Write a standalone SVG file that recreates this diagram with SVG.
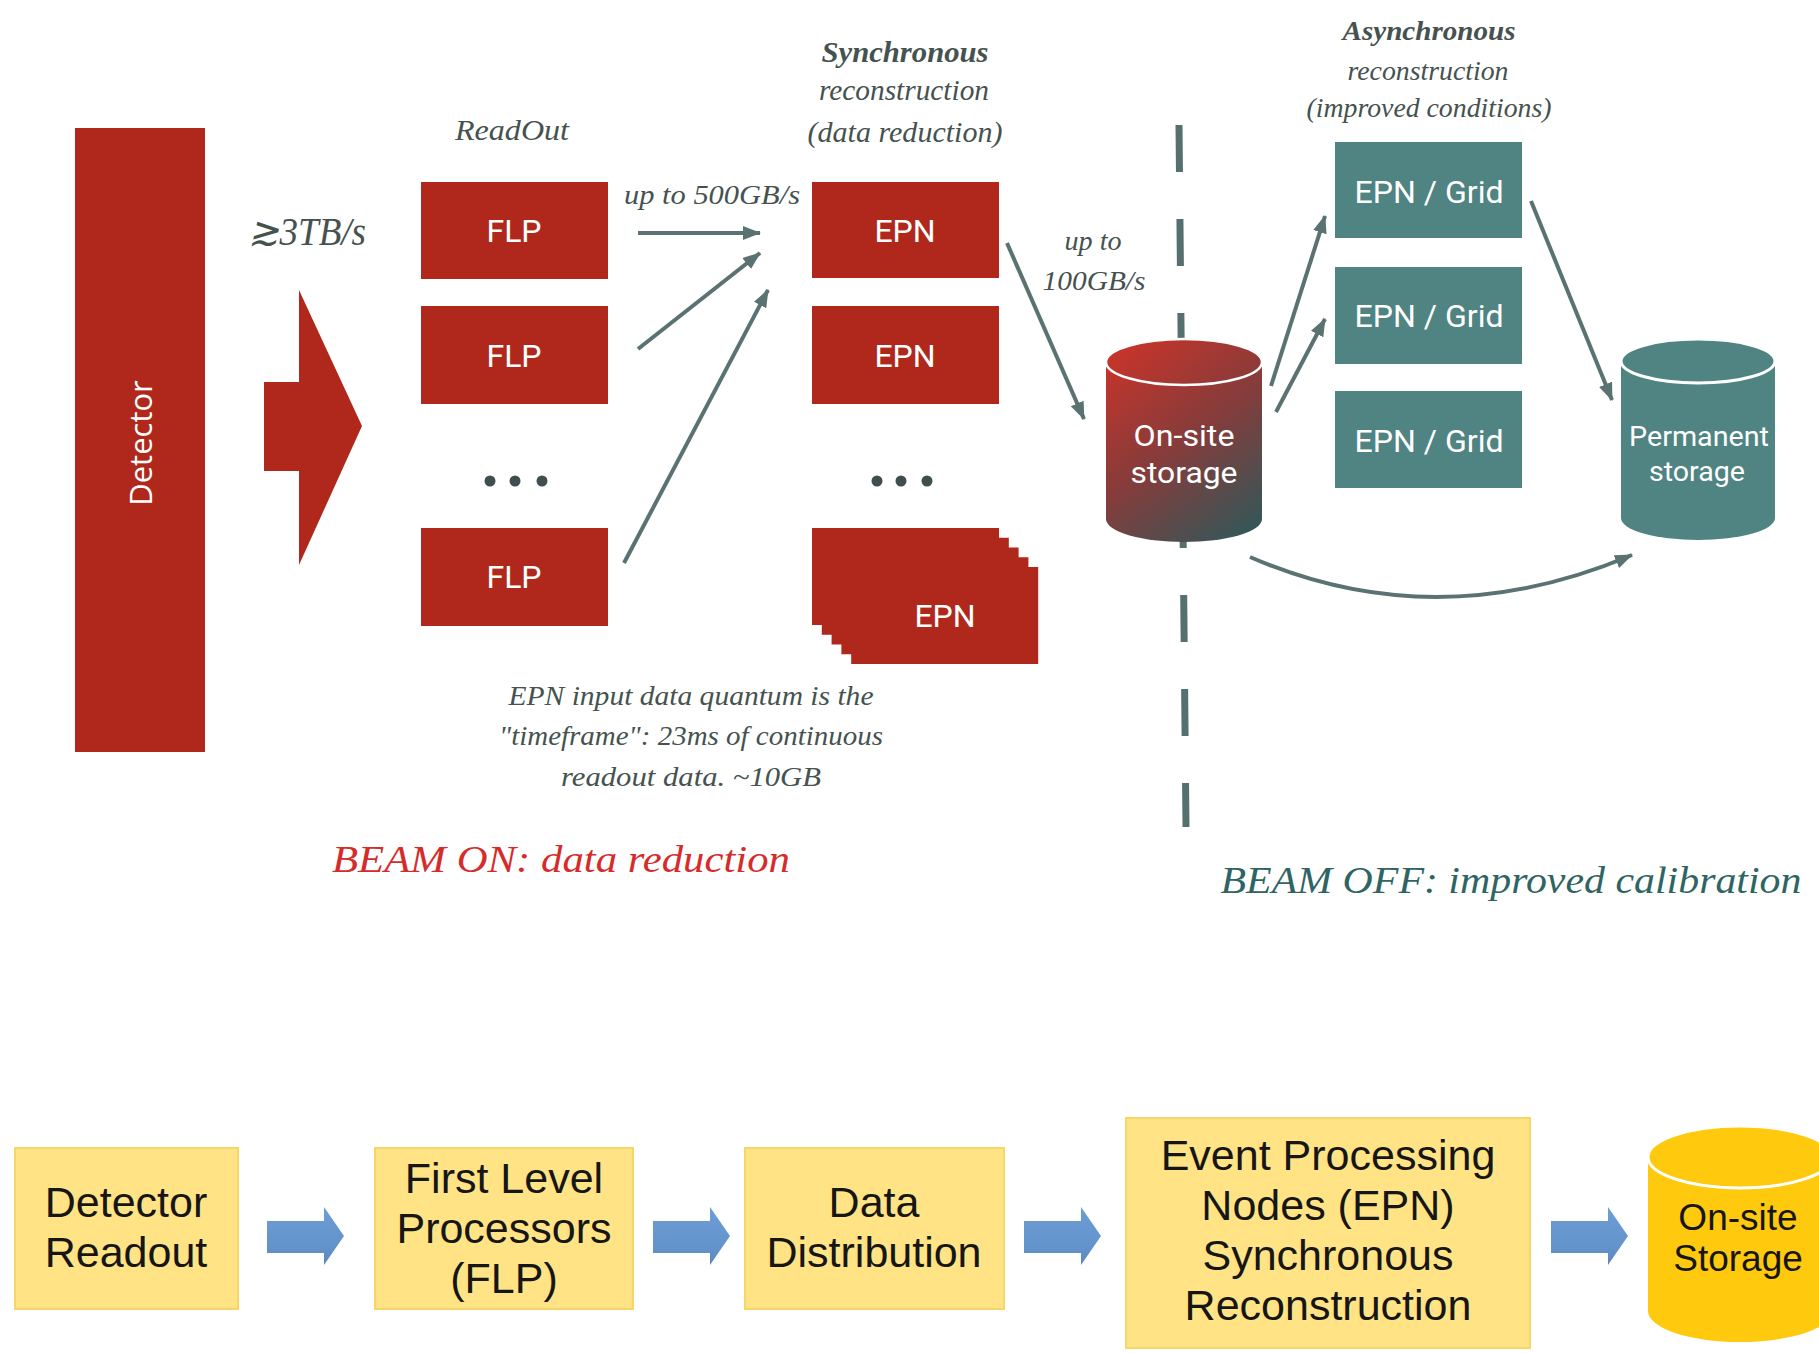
<svg xmlns="http://www.w3.org/2000/svg" xmlns:xlink="http://www.w3.org/1999/xlink" width="1819" height="1354" viewBox="0 0 1819 1354">
  <style>
    .red { fill: #b0281b; }
    .teal { fill: #4f8482; }
    .lbl { font-family: Roboto, "Liberation Sans", sans-serif; fill: #ffffff; text-anchor: middle; }
    .note { font-family: "Liberation Serif", "DejaVu Serif", serif; font-style: italic; fill: #45524f; text-anchor: middle; }
    .conn { fill: none; stroke: #5a7372; stroke-width: 4; marker-end: url(#ah); }
    .ybox { fill: #ffe384; stroke: #f7d566; stroke-width: 2; }
    .ytxt { font-family: "Liberation Sans", Arial, sans-serif; fill: #161616; text-anchor: middle; }
  </style>
  <defs>
    <marker id="ah" markerUnits="userSpaceOnUse" markerWidth="18" markerHeight="14" refX="17" refY="7" orient="auto">
      <path d="M0,0 L18,7 L0,14 Z" fill="#5a7372"/>
    </marker>
    <linearGradient id="onsiteGrad" gradientUnits="userSpaceOnUse" x1="1106" y1="340" x2="1262" y2="542">
      <stop offset="0" stop-color="#cf3328"/>
      <stop offset="0.5" stop-color="#853c3b"/>
      <stop offset="1" stop-color="#2b5a5c"/>
    </linearGradient>
    <linearGradient id="blueGrad" x1="0" y1="0" x2="0" y2="1">
      <stop offset="0" stop-color="#6c9dd3"/>
      <stop offset="0.7" stop-color="#6393cb"/>
      <stop offset="1" stop-color="#5a86bd"/>
    </linearGradient>
    <path id="blk" d="M0,-16 H57 V-30 L77,-1 L57,28 V16 H0 Z" fill="url(#blueGrad)"/>
  </defs>

  <rect width="1819" height="1354" fill="#ffffff"/>

  <!-- dashed separator between beam-on and beam-off parts -->
  <line x1="1179" y1="125" x2="1186" y2="827" stroke="#56706f" stroke-width="7" stroke-dasharray="47 47"/>

  <!-- upper flow: detector to storage -->
  <g id="detector">
    <rect class="red" x="75" y="128" width="130" height="624"/>
    <text transform="translate(152,443) rotate(-90)" font-family="'Open Sans', 'Liberation Sans', sans-serif" font-size="31" fill="#ffffff" text-anchor="middle">Detector</text>
  </g>

  <g id="rate-arrow">
    <polygon class="red" points="264,382 299,382 299,290 362,426 299,565 299,471 264,471"/>
    <text class="note" x="307" y="245" font-size="40" textLength="118" lengthAdjust="spacingAndGlyphs">≳3TB/s</text>
  </g>

  <g id="readout-title">
    <text class="note" x="512" y="140" font-size="30" textLength="114" lengthAdjust="spacingAndGlyphs">ReadOut</text>
  </g>

  <g id="flp-1">
    <rect class="red" x="421" y="182" width="187" height="97"/>
    <text class="lbl" x="514" y="242" font-size="32">FLP</text>
  </g>
  <g id="flp-2">
    <rect class="red" x="421" y="306" width="187" height="98"/>
    <text class="lbl" x="514" y="367" font-size="32">FLP</text>
  </g>
  <g id="flp-dots" fill="#3f4f4f">
    <circle cx="490" cy="481" r="5.5"/>
    <circle cx="515" cy="481" r="5.5"/>
    <circle cx="542" cy="481" r="5.5"/>
  </g>
  <g id="flp-n">
    <rect class="red" x="421" y="528" width="187" height="98"/>
    <text class="lbl" x="514" y="588" font-size="32">FLP</text>
  </g>

  <g id="sync-title">
    <text class="note" x="905" y="62" font-size="29" font-weight="bold" textLength="167" lengthAdjust="spacingAndGlyphs">Synchronous</text>
    <text class="note" x="904" y="100" font-size="29" textLength="170" lengthAdjust="spacingAndGlyphs">reconstruction</text>
    <text class="note" x="905" y="142" font-size="29" textLength="195" lengthAdjust="spacingAndGlyphs">(data reduction)</text>
  </g>

  <g id="epn-1">
    <rect class="red" x="812" y="182" width="187" height="96"/>
    <text class="lbl" x="905" y="242" font-size="32">EPN</text>
  </g>
  <g id="epn-2">
    <rect class="red" x="812" y="306" width="187" height="98"/>
    <text class="lbl" x="905" y="367" font-size="32">EPN</text>
  </g>
  <g id="epn-dots" fill="#3f4f4f">
    <circle cx="877" cy="481" r="5.5"/>
    <circle cx="901" cy="481" r="5.5"/>
    <circle cx="927" cy="481" r="5.5"/>
  </g>
  <g id="epn-stack">
    <rect class="red" x="812" y="528" width="187" height="97"/>
    <rect class="red" x="821.8" y="537.75" width="187" height="97"/>
    <rect class="red" x="831.6" y="547.5" width="187" height="97"/>
    <rect class="red" x="841.4" y="557.25" width="187" height="97"/>
    <rect class="red" x="851.2" y="567" width="187" height="97"/>
    <text class="lbl" x="945" y="627" font-size="32">EPN</text>
  </g>

  <g id="timeframe-note">
    <text class="note" x="691" y="705" font-size="28" textLength="365" lengthAdjust="spacingAndGlyphs">EPN input data quantum is the</text>
    <text class="note" x="691" y="745" font-size="28" textLength="384" lengthAdjust="spacingAndGlyphs">"timeframe": 23ms of continuous</text>
    <text class="note" x="691" y="786" font-size="28" textLength="260" lengthAdjust="spacingAndGlyphs">readout data. ~10GB</text>
  </g>

  <g id="beam-on">
    <text x="561" y="872" font-family="'Liberation Serif', serif" font-style="italic" font-size="38" fill="#d62b2b" text-anchor="middle" textLength="458" lengthAdjust="spacingAndGlyphs">BEAM ON: data reduction</text>
  </g>

  <g id="onsite-storage">
    <path d="M1106,362 V519 A78,23 0 0 0 1262,519 V362 Z" fill="url(#onsiteGrad)"/>
    <ellipse cx="1184" cy="362" rx="78" ry="23" fill="url(#onsiteGrad)" stroke="#ffffff" stroke-width="2.5"/>
    <text class="lbl" x="1184" y="446" font-size="30" textLength="101" lengthAdjust="spacingAndGlyphs">On-site</text>
    <text class="lbl" x="1184" y="483" font-size="30" textLength="107" lengthAdjust="spacingAndGlyphs">storage</text>
  </g>

  <g id="async-title">
    <text class="note" x="1429" y="40" font-size="28" font-weight="bold" textLength="173" lengthAdjust="spacingAndGlyphs">Asynchronous</text>
    <text class="note" x="1428" y="80" font-size="27" textLength="161" lengthAdjust="spacingAndGlyphs">reconstruction</text>
    <text class="note" x="1429" y="117" font-size="27" textLength="245" lengthAdjust="spacingAndGlyphs">(improved conditions)</text>
  </g>

  <g id="grid-1">
    <rect class="teal" x="1335" y="142" width="187" height="96"/>
    <text class="lbl" x="1429" y="203" font-size="32" textLength="149" lengthAdjust="spacingAndGlyphs">EPN / Grid</text>
  </g>
  <g id="grid-2">
    <rect class="teal" x="1335" y="267" width="187" height="97"/>
    <text class="lbl" x="1429" y="327" font-size="32" textLength="149" lengthAdjust="spacingAndGlyphs">EPN / Grid</text>
  </g>
  <g id="grid-3">
    <rect class="teal" x="1335" y="391" width="187" height="97"/>
    <text class="lbl" x="1429" y="452" font-size="32" textLength="149" lengthAdjust="spacingAndGlyphs">EPN / Grid</text>
  </g>

  <g id="permanent-storage">
    <path class="teal" d="M1621,361 V518 A77,22 0 0 0 1775,518 V361 Z"/>
    <ellipse class="teal" cx="1698" cy="361" rx="77" ry="22" stroke="#ffffff" stroke-width="3"/>
    <text class="lbl" x="1699" y="446" font-size="28" textLength="140" lengthAdjust="spacingAndGlyphs">Permanent</text>
    <text class="lbl" x="1697" y="481" font-size="28" textLength="96" lengthAdjust="spacingAndGlyphs">storage</text>
  </g>

  <g id="beam-off">
    <text x="1511" y="893" font-family="'Liberation Serif', serif" font-style="italic" font-size="38" fill="#2f6464" text-anchor="middle" textLength="581" lengthAdjust="spacingAndGlyphs">BEAM OFF: improved calibration</text>
  </g>

  <!-- data-path connectors of the upper flow -->
  <g id="connectors">
    <line class="conn" x1="638" y1="233" x2="760" y2="233"/>
    <line class="conn" x1="638" y1="349" x2="760" y2="253"/>
    <line class="conn" x1="624" y1="563" x2="768" y2="290"/>
    <line class="conn" x1="1007" y1="243" x2="1084" y2="419"/>
    <line class="conn" x1="1271" y1="386" x2="1325" y2="216"/>
    <line class="conn" x1="1276" y1="412" x2="1325" y2="319"/>
    <line class="conn" x1="1531" y1="201" x2="1612" y2="400"/>
    <path class="conn" d="M1250,557 Q1436,638 1632,555"/>
    <text class="note" x="712" y="204" font-size="28" textLength="176" lengthAdjust="spacingAndGlyphs">up to 500GB/s</text>
    <text class="note" x="1093" y="250" font-size="28" textLength="57" lengthAdjust="spacingAndGlyphs">up to</text>
    <text class="note" x="1094" y="290" font-size="28" textLength="103" lengthAdjust="spacingAndGlyphs">100GB/s</text>
  </g>

  <!-- lower flow: processing chain -->
  <g id="chain-detector-readout">
    <rect class="ybox" x="15" y="1148" width="223" height="161"/>
    <text class="ytxt" x="126" y="1217" font-size="43">Detector</text>
    <text class="ytxt" x="126" y="1267" font-size="43">Readout</text>
  </g>
  <g id="chain-flp">
    <rect class="ybox" x="375" y="1148" width="258" height="161"/>
    <text class="ytxt" x="504" y="1193" font-size="43">First Level</text>
    <text class="ytxt" x="504" y="1243" font-size="43">Processors</text>
    <text class="ytxt" x="504" y="1293" font-size="43">(FLP)</text>
  </g>
  <g id="chain-distribution">
    <rect class="ybox" x="745" y="1148" width="259" height="161"/>
    <text class="ytxt" x="874" y="1217" font-size="43">Data</text>
    <text class="ytxt" x="874" y="1267" font-size="43">Distribution</text>
  </g>
  <g id="chain-epn">
    <rect class="ybox" x="1126" y="1118" width="404" height="230"/>
    <text class="ytxt" x="1328" y="1170" font-size="43">Event Processing</text>
    <text class="ytxt" x="1328" y="1220" font-size="43">Nodes (EPN)</text>
    <text class="ytxt" x="1328" y="1270" font-size="43">Synchronous</text>
    <text class="ytxt" x="1328" y="1320" font-size="43">Reconstruction</text>
  </g>
  <g id="chain-storage">
    <path d="M1648,1157 V1311 A92,31 0 0 0 1832,1311 V1157 Z" fill="#ffc90e"/>
    <ellipse cx="1740" cy="1157" rx="92" ry="31" fill="#ffc90e" stroke="#ffffff" stroke-width="3"/>
    <text class="ytxt" x="1738" y="1230" font-size="37">On-site</text>
    <text class="ytxt" x="1738" y="1271" font-size="37">Storage</text>
  </g>

  <g id="chain-connectors">
    <use xlink:href="#blk" x="267" y="1237"/>
    <use xlink:href="#blk" x="653" y="1237"/>
    <use xlink:href="#blk" x="1024" y="1237"/>
    <use xlink:href="#blk" x="1551" y="1237"/>
  </g>
</svg>
